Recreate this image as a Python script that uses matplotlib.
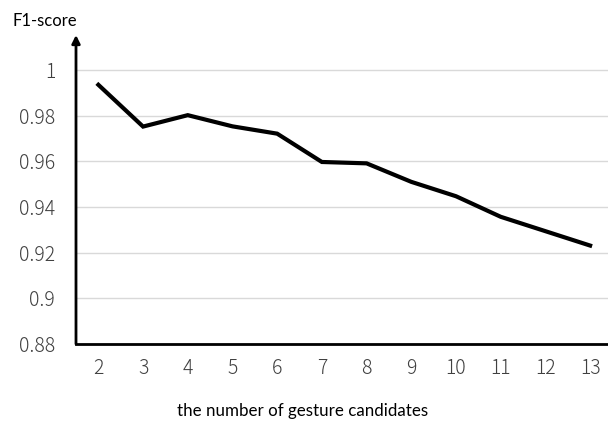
import matplotlib
matplotlib.use('Agg')
import matplotlib.pyplot as plt

# number of gesture candidates vs F1-score
candidates = [2, 3, 4, 5, 6, 7, 8, 9, 10, 11, 12, 13]
f1_score = [0.9935, 0.9752, 0.9802, 0.9753, 0.9721, 0.9597, 0.9591, 0.9510, 0.9447, 0.9357, 0.9294, 0.9231]
yticks = [0.88, 0.9, 0.92, 0.94, 0.96, 0.98, 1.0]
ytick_labels = ['0.88', '0.9', '0.92', '0.94', '0.96', '0.98', '1']

tick_font = ['Noto Sans CJK JP', 'DejaVu Sans']
label_font = ['Lato', 'DejaVu Sans']

fig = plt.figure(figsize=(6.08, 4.25), dpi=100)
ax = fig.add_axes([76 / 608, 81 / 425, 532 / 608, 309 / 425])

ax.plot(candidates, f1_score, color='black', linewidth=3, solid_joinstyle='miter')

ax.set_xlim(1.5, 13.4)
ax.set_ylim(0.88, 1.0153)
ax.set_xticks(candidates)
ax.set_xticklabels([str(c) for c in candidates], family=tick_font, fontsize=14,
                   color='#404040', fontweight='light')
ax.set_yticks(yticks)
ax.set_yticklabels(ytick_labels, family=tick_font, fontsize=14,
                   color='#404040', fontweight='light')
ax.tick_params(axis='both', length=0)
ax.tick_params(axis='x', pad=10)
ax.tick_params(axis='y', pad=15)

ax.grid(axis='y', color='#d9d9d9', linewidth=1)
ax.set_axisbelow(True)
for s in ['top', 'right']:
    ax.spines[s].set_visible(False)
ax.spines['left'].set_visible(False)
ax.spines['bottom'].set_linewidth(2)
ax.spines['bottom'].set_color('black')

# y axis with arrow
ax.annotate('', xy=(0, 1.0), xytext=(0, 0), xycoords='axes fraction',
            arrowprops=dict(arrowstyle='-|>', color='black', lw=2,
                            mutation_scale=12, shrinkA=0, shrinkB=0))

fig.text(12 / 608, 1 - 21 / 425, 'F1-score', family=label_font, fontsize=12,
         ha='left', va='center', color='black')
fig.text(303 / 608, 1 - 411 / 425, 'the number of gesture candidates', family=label_font,
         fontsize=12.2, ha='center', va='center', color='black')

fig.savefig('out.png', dpi=100)
